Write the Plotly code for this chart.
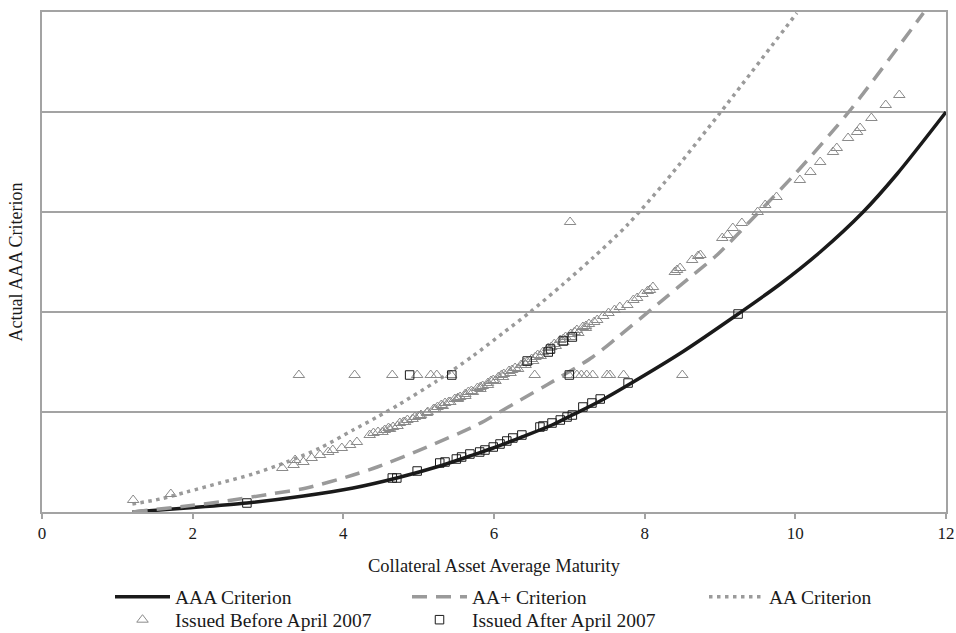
import plotly.graph_objects as go

# Rating criterion curves (collateral maturity vs. AAA criterion level)
aaa_x = [1.2, 1.92, 2.72, 3.47, 4.13, 4.71, 5.28, 5.68, 5.99, 6.37, 6.77, 7.04, 7.41,
         7.78, 8.5, 9.24, 9.8, 10.33, 10.9, 11.35, 12.0]
aaa_y = [0.0, 0.04, 0.09, 0.16, 0.24, 0.34, 0.46, 0.56, 0.64, 0.75, 0.87, 0.97, 1.11,
         1.27, 1.6, 1.98, 2.28, 2.6, 3.0, 3.38, 4.0]

aa_plus_x = [1.2, 1.92, 2.45, 3.03, 3.51, 4.13, 4.45, 5.11, 5.77, 6.35, 6.7, 7.31, 7.63, 8.11,
             8.64, 8.96, 9.44, 10.02, 10.73, 11.7]
aa_plus_y = [0.0, 0.06, 0.11, 0.18, 0.24, 0.37, 0.45, 0.65, 0.87, 1.12, 1.27, 1.55, 1.74, 2.04,
             2.37, 2.57, 2.94, 3.4, 4.02, 4.99]

aa_x = [1.2, 1.57, 1.92, 2.36, 2.8, 3.25, 3.69, 4.13, 4.45, 4.75, 5.24, 5.72, 6.12, 6.48, 6.92,
        7.31, 7.77, 8.27, 9.0, 10.02]
aa_y = [0.08, 0.13, 0.2, 0.29, 0.38, 0.5, 0.64, 0.82, 0.95, 1.08, 1.31, 1.56, 1.79, 2.0, 2.28,
        2.54, 2.87, 3.3, 3.99, 4.99]

# Deals issued before April 2007
before_x = [1.21, 1.71, 3.19, 3.34, 3.36, 3.47, 3.58, 3.69, 3.8, 3.86, 3.98, 4.09, 4.18, 4.35,
            4.46, 4.55, 4.66, 4.75, 4.85, 4.95, 5.03, 5.11, 5.2, 5.3, 5.4, 5.48, 5.55, 5.62,
            5.7, 5.78, 5.85, 5.92, 5.99, 6.06, 6.13, 6.2, 6.28, 6.36, 6.44, 6.5, 6.58, 6.65,
            6.72, 6.8, 6.88, 6.95, 7.02, 7.1, 7.18, 7.26, 7.37, 7.45, 7.52, 7.6, 7.67, 7.77,
            7.85, 7.9, 7.97, 8.04, 8.07, 8.11, 8.4, 8.43, 8.47, 8.63, 8.71, 8.74, 9.03, 9.1,
            9.17, 9.29, 9.5, 9.6, 9.75, 10.06, 10.2, 10.33, 10.5, 10.55, 10.7, 10.82, 10.86,
            11.01, 11.2, 11.38,
            4.4, 4.6, 4.8, 5.0, 5.25, 5.35, 5.52, 5.66, 5.82, 5.96, 6.1, 6.24, 6.4, 6.55, 6.76,
            6.92, 7.07, 7.22, 7.33,
            4.52, 4.62, 4.72, 4.82, 4.92, 5.02, 5.12, 5.22, 5.32, 5.42, 5.52, 5.62, 5.72, 5.82,
            5.92, 6.02, 6.12, 6.22, 6.32, 6.42, 6.52, 6.62, 6.72, 6.82, 6.92, 7.02, 7.12, 7.22,
            3.41, 4.15, 4.65, 4.98, 5.16, 5.24, 5.43, 6.54, 6.99, 7.1, 7.16, 7.23, 7.31, 7.5,
            7.54, 7.72, 8.5,
            7.01]
before_y = [0.12, 0.18, 0.44, 0.47, 0.52, 0.5, 0.54, 0.57, 0.6, 0.62, 0.64, 0.67, 0.7, 0.77,
            0.8, 0.82, 0.85, 0.89, 0.92, 0.95, 0.97, 0.99, 1.03, 1.07, 1.1, 1.13, 1.15, 1.18,
            1.21, 1.24, 1.26, 1.29, 1.32, 1.35, 1.38, 1.41, 1.44, 1.47, 1.5, 1.53, 1.57, 1.6,
            1.64, 1.68, 1.72, 1.75, 1.78, 1.82, 1.85, 1.88, 1.92, 1.96, 1.99, 2.02, 2.05, 2.07,
            2.12, 2.14, 2.18, 2.21, 2.22, 2.25, 2.4, 2.42, 2.44, 2.52, 2.56, 2.57, 2.74, 2.77,
            2.84, 2.89, 3.0, 3.07, 3.15, 3.32, 3.4, 3.5, 3.6, 3.64, 3.74, 3.8, 3.84,
            3.94, 4.07, 4.17,
            0.79, 0.84, 0.9, 0.96, 1.05, 1.09, 1.14, 1.2, 1.25, 1.31, 1.37, 1.42, 1.49, 1.55,
            1.65, 1.73, 1.8, 1.86, 1.9,
            0.8, 0.83, 0.86, 0.9, 0.93, 0.96, 1.0, 1.03, 1.06, 1.1, 1.13, 1.16, 1.2, 1.23,
            1.27, 1.31, 1.35, 1.39, 1.43, 1.47, 1.51, 1.56, 1.61, 1.66, 1.7, 1.75, 1.79, 1.84,
            1.37, 1.37, 1.37, 1.37, 1.37, 1.37, 1.37, 1.37, 1.37, 1.37, 1.37, 1.37, 1.37, 1.37,
            1.37, 1.37, 1.37,
            2.9]

# Deals issued after April 2007
after_x = [2.72, 4.65, 4.71, 4.98, 5.28, 5.35, 5.5, 5.57, 5.68, 5.81, 5.88, 5.99, 6.08, 6.17,
           6.25, 6.37, 6.61, 6.65, 6.77, 6.88, 6.97, 7.04, 7.18, 7.3, 7.41, 7.78, 9.24,
           6.44, 6.72, 6.75, 6.92, 7.04,
           4.88, 5.44, 7.0]
after_y = [0.09, 0.34, 0.34, 0.41, 0.49, 0.5, 0.53, 0.55, 0.58, 0.6, 0.62, 0.65, 0.68, 0.71,
           0.74, 0.77, 0.85, 0.86, 0.89, 0.92, 0.95, 0.97, 1.05, 1.09, 1.13, 1.29, 1.98,
           1.51, 1.6, 1.63, 1.71, 1.75,
           1.37, 1.37, 1.37]

x_ticks = [0, 2, 4, 6, 8, 10, 12]

SERIF = "Liberation Serif, Times New Roman, serif"
GRID = "#a3a3a3"
INK = "#1a1a1a"

fig = go.Figure()
# criterion curves go in the first legend row, deal markers in the second
fig.add_trace(go.Scatter(x=aaa_x, y=aaa_y, mode="lines", name="AAA Criterion", legend="legend",
                         line=dict(color=INK, width=3.5, shape="spline", smoothing=0.8)))
fig.add_trace(go.Scatter(x=aa_plus_x, y=aa_plus_y, mode="lines", name="AA+ Criterion",
                         legend="legend",
                         line=dict(color="#9a9a9a", width=3.5, dash="15px,9px",
                                   shape="spline", smoothing=0.8)))
fig.add_trace(go.Scatter(x=aa_x, y=aa_y, mode="lines", name="AA Criterion", legend="legend",
                         line=dict(color="#9a9a9a", width=3.5, dash="3.5px,4.5px",
                                   shape="spline", smoothing=0.8)))
fig.add_trace(go.Scatter(x=before_x, y=before_y, mode="markers", name="Issued Before April 2007",
                         legend="legend2",
                         marker=dict(symbol="triangle-up-open", size=10, color="#8a8a8a",
                                     line=dict(width=1, color="#8a8a8a"))))
fig.add_trace(go.Scatter(x=after_x, y=after_y, mode="markers", name="Issued After April 2007",
                         legend="legend2",
                         marker=dict(symbol="square-open", size=8.5, color=INK,
                                     line=dict(width=1, color=INK))))

legend_common = dict(orientation="h", xref="container", yref="container",
                     x=110 / 956, xanchor="left", yanchor="middle",
                     entrywidth=227, itemwidth=55, tracegroupgap=0,
                     font=dict(family=SERIF, size=19.5, color=INK),
                     bgcolor="rgba(0,0,0,0)")

fig.update_layout(
    width=956, height=633,
    margin=dict(l=42, r=10, t=12, b=121, autoexpand=False),
    paper_bgcolor="white", plot_bgcolor="white",
    font=dict(family=SERIF, size=18, color=INK),
    showlegend=True,
    legend=dict(legend_common, y=1 - 597 / 633),
    legend2=dict(legend_common, y=1 - 620 / 633),
    xaxis=dict(range=[0, 12], tickvals=x_ticks, ticktext=[str(t) for t in x_ticks],
               showgrid=False, zeroline=False, showline=True, linecolor=GRID, linewidth=1.5,
               mirror=True, ticks="outside", ticklen=5, tickcolor=GRID, tickwidth=1.5,
               tickfont=dict(family=SERIF, size=17, color=INK),
               title=dict(text="Collateral Asset Average Maturity", standoff=17,
                          font=dict(family=SERIF, size=18.5, color=INK))),
    yaxis=dict(range=[0, 5], dtick=1, showgrid=True, gridcolor=GRID, gridwidth=1.5,
               zeroline=False, showline=True, linecolor=GRID, linewidth=1.5, mirror=True,
               showticklabels=False, ticks="",
               title=dict(text="Actual AAA Criterion", standoff=13,
                          font=dict(family=SERIF, size=18, color=INK))),
)

fig.write_html("out.html")
